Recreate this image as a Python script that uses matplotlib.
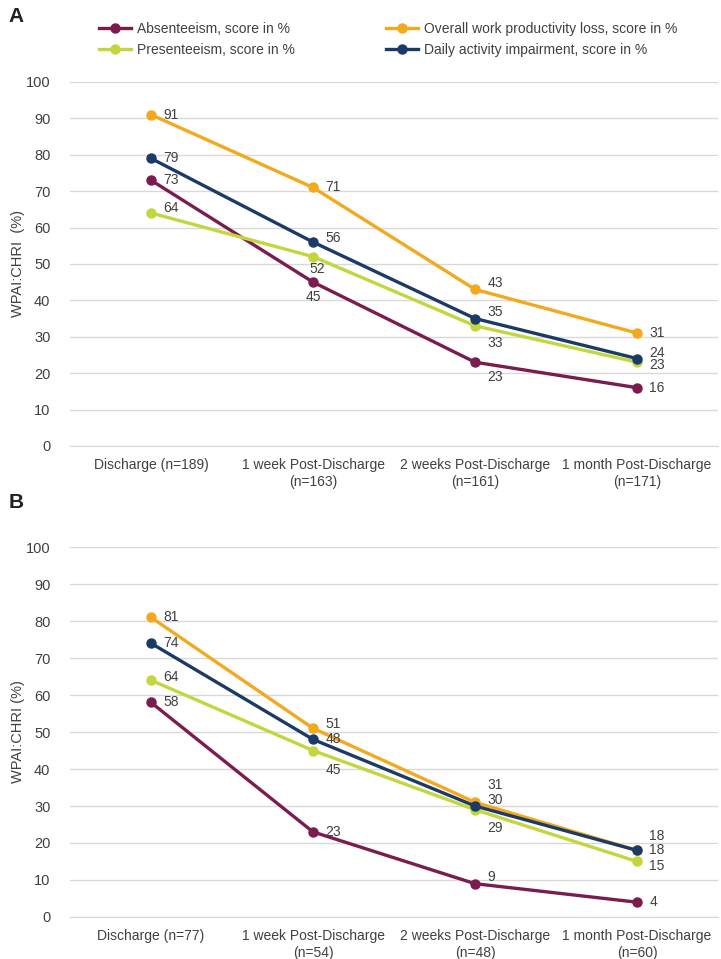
import matplotlib
matplotlib.use("Agg")
import matplotlib.pyplot as plt
from matplotlib.lines import Line2D

plt.rcParams["font.family"] = ["Liberation Sans", "DejaVu Sans"]

# dane
series_names = [
    "Absenteeism, score in %",
    "Presenteeism, score in %",
    "Overall work productivity loss, score in %",
    "Daily activity impairment, score in %",
]
colors = ["#7B1C4E", "#C3D63E", "#F2A91E", "#1B3A66"]

labels_a = ["Discharge (n=189)", "1 week Post-Discharge\n(n=163)",
            "2 weeks Post-Discharge\n(n=161)", "1 month Post-Discharge\n(n=171)"]
labels_b = ["Discharge (n=77)", "1 week Post-Discharge\n(n=54)",
            "2 weeks Post-Discharge\n(n=48)", "1 month Post-Discharge\n(n=60)"]

absent_a = [73, 45, 23, 16]
present_a = [64, 52, 33, 23]
overall_a = [91, 71, 43, 31]
daily_a = [79, 56, 35, 24]

absent_b = [58, 23, 9, 4]
present_b = [64, 45, 29, 15]
overall_b = [81, 51, 31, 18]
daily_b = [74, 48, 30, 18]

# przesunięcia etykiet (w pikselach), kolejność jak series_names
off_a = [
    [(20, 0), (0, -15), (20, -15), (20, 0)],
    [(20, 5), (4, -12), (20, -17), (20, -3)],
    [(20, 0), (20, 0), (20, 6), (20, 0)],
    [(20, 0), (20, 4), (20, 7), (20, 6)],
]
off_b = [
    [(20, 0), (20, 0), (16, 7), (16, 0)],
    [(20, 3), (20, -19), (20, -18), (20, -5)],
    [(20, 0), (20, 4), (20, 17), (20, 14)],
    [(20, 0), (20, 0), (20, 6), (20, 0)],
]


def panel(ax, labels, data, offsets, ylabel):
    x = range(len(labels))
    for vals, c, offs in zip(data, colors, offsets):
        ax.plot(x, vals, color=c, lw=2.4, marker="o", ms=6.5, zorder=3)
        for xi, v, o in zip(x, vals, offs):
            ax.annotate(str(v), (xi, v), xytext=o, textcoords="offset pixels",
                        ha="center", va="center", fontsize=10, color="#404040")
    ax.set_xlim(-0.5, len(labels) - 0.5)
    ax.set_ylim(0, 100)
    ax.set_yticks(range(0, 101, 10))
    ax.set_xticks(list(x))
    ax.set_xticklabels(labels, fontsize=10, color="#404040", linespacing=1.25)
    ax.tick_params(axis="y", labelsize=10.5, colors="#404040", length=0, pad=14)
    ax.tick_params(axis="x", length=0, pad=9)
    ax.grid(axis="y", color="#D9D9D9", lw=1)
    ax.set_axisbelow(True)
    for s in ["top", "right", "left"]:
        ax.spines[s].set_visible(False)
    ax.spines["bottom"].set_color("#D9D9D9")
    ax.set_ylabel(ylabel, fontsize=10.5, color="#404040")
    ax.yaxis.set_label_coords(-0.07, 0.5)


fig = plt.figure(figsize=(7.21, 9.59), dpi=100)
ax1 = fig.add_axes([0.097, 0.535, 0.899, 0.3796])
ax2 = fig.add_axes([0.097, 0.0438, 0.899, 0.3858])

panel(ax1, labels_a, [absent_a, present_a, overall_a, daily_a], off_a, "WPAI:CHRI  (%)")
panel(ax2, labels_b, [absent_b, present_b, overall_b, daily_b], off_b, "WPAI:CHRI (%)")

fig.text(0.012, 0.983, "A", fontsize=15, fontweight="bold", va="center", color="#222222")
fig.text(0.012, 0.476, "B", fontsize=15, fontweight="bold", va="center", color="#222222")

handles = [Line2D([], [], color=c, lw=2.4, marker="o", ms=6.5) for c in colors]
fig.legend(handles, series_names, ncol=2, loc="upper left",
           bbox_to_anchor=(0.12, 0.99), frameon=False, fontsize=10,
           handlelength=2.3, handletextpad=0.4, columnspacing=6.6,
           labelspacing=0.5, labelcolor="#404040")

fig.savefig("out.png", dpi=100)
